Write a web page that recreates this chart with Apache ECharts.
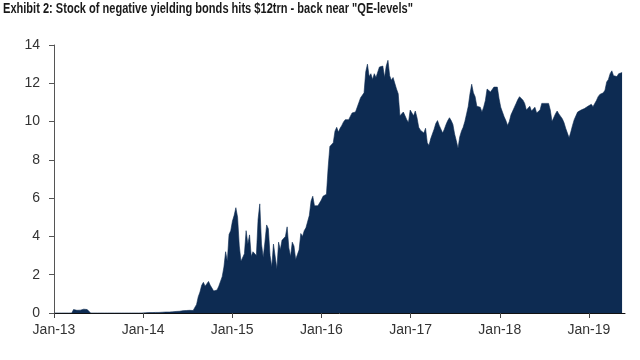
<!DOCTYPE html>
<html>
<head>
<meta charset="utf-8">
<script src="https://cdn.jsdelivr.net/npm/echarts@6/dist/echarts.min.js"></script>
<style>
html,body{margin:0;padding:0;background:#fff;}
#chart{width:640px;height:360px;}
</style>
</head>
<body>
<div id="chart"></div>
<script>
// Weekly observations (Fridays) starting 2013-01-04, $trn
const firstWeek = [2013, 0, 4];
const values2013 = [0,0,0,0,0,0,0,0,0,0,0,0.18,0.2,0.14,0.2,0.15,0.2,0.2,0.16,0.18,0.17,0,0,0,0,0,0,0,0,0,0,0,0,0,0,0,0,0,0,0,0,0,0,0,0,0,0,0,0,0,0,0];
const values2014 = [0.01,0.01,0.02,0.02,0.02,0.02,0.03,0.03,0.03,0.03,0.04,0.04,0.04,0.05,0.05,0.05,0.06,0.06,0.07,0.08,0.08,0.09,0.1,0.12,0.1,0.13,0.15,0.14,0.16,0.13,0.2,0.45,0.85,1.1,1.45,1.6,1.4,1.4,1.65,1.45,1.3,1.15,1.05,1.2,1.4,1.35,1.9,2.4,3.2,2.7,4.1,4.3];
const values2015 = [4.8,5.1,5.5,5.0,3.5,2.7,2.6,3.1,4.3,3.6,4.08,2.95,3.2,3.1,3.0,4.9,5.7,3.6,2.9,3.7,4.6,4.4,3.0,2.4,3.6,3.6,2.3,3.7,3.3,3.8,3.8,4.0,4.5,3.4,2.95,3.7,3.5,2.8,2.8,3.3,4.15,4.0,4.3,4.45,4.5,5.1,5.85,6.1,5.6,5.5,5.6,5.7];
const values2016 = [5.9,6.1,6.0,6.2,7.6,8.7,8.6,8.9,9.5,9.7,9.45,9.65,9.8,9.98,10.1,10.1,10.1,10.0,10.45,10.35,10.5,10.75,11.0,11.25,11.15,11.5,12.6,13.0,12.35,12.5,12.2,12.5,12.3,12.3,12.85,12.95,12.9,12.3,12.9,13.2,12.4,12.16,12.3,12.0,11.7,11.45,10.3,10.4,10.5,10.3,10.1,9.95,10.6];
const values2017 = [10.7,10.3,10.55,10.2,9.7,9.55,9.6,9.4,9.65,8.9,8.75,9.1,9.35,9.6,9.9,10.05,9.8,9.9,9.4,9.6,9.85,10.05,10.2,10.05,9.85,9.35,9.0,8.6,9.2,9.5,9.7,10.0,10.4,10.8,11.45,11.95,11.5,11.3,10.8,10.7,10.75,10.5,10.75,11.1,11.7,11.6,11.55,11.65,11.8,11.8,11.8,11.2];
const values2018 = [10.75,10.5,10.25,10.05,9.8,10.0,10.35,10.55,10.75,10.95,11.15,11.3,11.25,11.12,10.95,10.6,10.6,10.8,10.55,10.65,10.75,10.45,10.35,10.6,10.95,10.9,10.95,11.0,10.95,10.6,10.0,9.9,10.4,10.55,10.4,10.3,10.15,9.95,9.65,9.4,9.15,9.45,9.8,10.1,10.3,10.5,10.55,10.6,10.65,10.68,10.75,10.8];
const values2019 = [10.9,10.9,10.78,10.94,11.1,11.3,11.42,11.5,11.5,11.64,12.07,12.2,12.5,12.65,12.4,12.45,12.35,12.5,12.56,12.56];

const tickDates = ['2013-01-01','2014-01-01','2015-01-01','2016-01-01','2017-01-01','2018-01-01','2019-01-01'];
const tickLabels = ['Jan-13','Jan-14','Jan-15','Jan-16','Jan-17','Jan-18','Jan-19'];
const xMin = '2013-01-01';
const xMax = '2019-05-29';
const yMin = 0, yMax = 14, yStep = 2;
const titleText = 'Exhibit 2: Stock of negative yielding bonds hits $12trn - back near "QE-levels"';

const allValues = [].concat(values2013, values2014, values2015, values2016, values2017, values2018, values2019);
const seriesData = allValues.map((v, i) => {
  const d = new Date(firstWeek[0], firstWeek[1], firstWeek[2] + 7 * i);
  return [d.getTime(), v];
});
function toTime(s) { const p = s.split('-').map(Number); return new Date(p[0], p[1] - 1, p[2]).getTime(); }
const tickTimes = tickDates.map(toTime);

const chart = echarts.init(document.getElementById('chart'), null, {renderer: 'canvas'});
chart.setOption({
  animation: false,
  backgroundColor: '#ffffff',
  graphic: [{
    type: 'text',
    x: 3, y: 2,
    scaleX: 0.79,
    style: {
      text: titleText,
      font: 'bold 14px "Liberation Sans", Arial, sans-serif',
      fill: '#1a1a1a',
      verticalAlign: 'top'
    }
  }],
  grid: {left: 54, right: 15, top: 45, bottom: 47, containLabel: false},
  xAxis: {
    type: 'value',
    min: toTime(xMin), max: toTime(xMax),
    scale: true,
    splitLine: {show: false},
    axisLine: {show: true, lineStyle: {color: '#111', width: 1}},
    axisTick: {show: true, length: 5, inside: false, customValues: tickTimes, lineStyle: {color: '#444'}},
    axisLabel: {
      customValues: tickTimes,
      margin: 10,
      fontFamily: '"Liberation Sans",Arial,sans-serif', fontSize: 14, color: '#333',
      formatter: function (val) {
        let best = 0, bd = Infinity;
        tickTimes.forEach((t, k) => { const dd = Math.abs(t - val); if (dd < bd) { bd = dd; best = k; } });
        return tickLabels[best];
      }
    }
  },
  yAxis: {
    type: 'value',
    min: yMin, max: yMax, interval: yStep,
    splitLine: {show: false},
    axisLine: {show: true, lineStyle: {color: '#555', width: 1}},
    axisTick: {show: true, length: 5, inside: false, lineStyle: {color: '#555'}},
    axisLabel: {margin: 14, fontFamily: '"Liberation Sans",Arial,sans-serif', fontSize: 14, color: '#333'}
  },
  series: [{
    type: 'line',
    data: seriesData,
    showSymbol: false,
    symbol: 'none',
    lineStyle: {width: 0.6, color: '#0d2b52'},
    areaStyle: {color: '#0d2b52', opacity: 1},
    z: 1
  }]
});
</script>
</body>
</html>
